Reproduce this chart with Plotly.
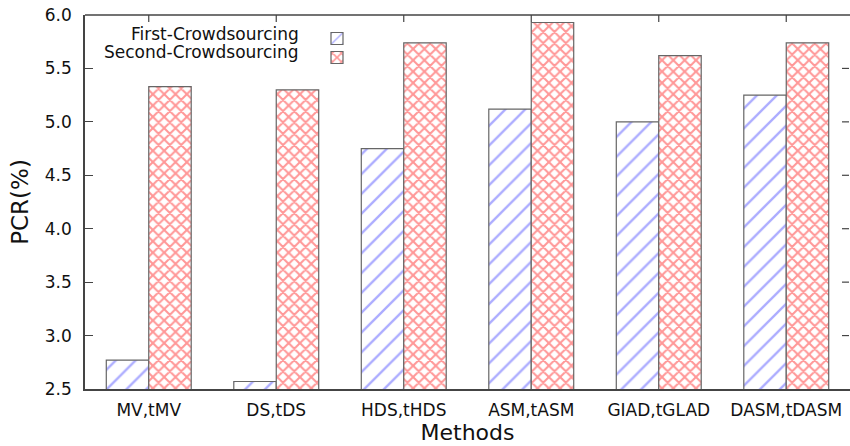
import plotly.graph_objects as go

categories = ["MV,tMV", "DS,tDS", "HDS,tHDS", "ASM,tASM", "GIAD,tGLAD", "DASM,tDASM"]
first_crowd = [2.77, 2.57, 4.75, 5.12, 5.00, 5.25]
second_crowd = [5.33, 5.30, 5.74, 5.93, 5.62, 5.74]
series_names = ["First-Crowdsourcing", "Second-Crowdsourcing"]
y_ticks = [2.5, 3.0, 3.5, 4.0, 4.5, 5.0, 5.5, 6.0]

FONT = "DejaVu Sans, Liberation Sans, Arial, sans-serif"

# plot area wanted at screen x 85..850, y 15..389 (page body margin removed)
W, H = 850, 446
PL, PR, PT, PB = 85, 850, 15, 389
PW, PH = PR - PL, PB - PT

fig = go.Figure()
fig.add_trace(go.Bar(
    x=categories, y=first_crowd, name="",
    hovertemplate=series_names[0] + ": %{y}<extra></extra>",
    marker=dict(color="white", line=dict(color="#666666", width=1.2),
                pattern=dict(shape="/", fgcolor="#5a5aff", bgcolor="white",
                             size=14, solidity=0.17)),
))
fig.add_trace(go.Bar(
    x=categories, y=second_crowd, name="",
    hovertemplate=series_names[1] + ": %{y}<extra></extra>",
    marker=dict(color="white", line=dict(color="#666666", width=1.2),
                pattern=dict(shape="x", fgcolor="#ff3030", bgcolor="white",
                             size=8, solidity=0.45)),
))

# top border and mirrored ticks (frame decorations)
fig.add_shape(type="line", xref="paper", yref="paper", x0=0, x1=1, y0=1, y1=1,
              line=dict(color="#444444", width=1.5))
for c in categories:
    fig.add_shape(type="line", xref="x", yref="paper", x0=c, x1=c, y0=1, y1=1 - 7 / PH,
                  line=dict(color="#444444", width=1.2))
for t in y_ticks[1:-1]:
    fig.add_shape(type="line", xref="paper", yref="y", x0=1 - 8 / PW, x1=1 - 1 / PW,
                  y0=t, y1=t, line=dict(color="#444444", width=1.2))

# legend labels (gnuplot style: text left of sample)
for i, nm in enumerate(series_names):
    fig.add_annotation(text=nm, xref="paper", yref="paper",
                       x=(301 - PL) / PW, y=(PB - (34 + 18 * i)) / PH,
                       xanchor="right", yanchor="middle", showarrow=False,
                       font=dict(family=FONT, size=17, color="#111111"))

fig.update_layout(
    width=W, height=H,
    margin=dict(l=PL, r=W - PR, t=PT, b=H - PB, autoexpand=False),
    paper_bgcolor="white", plot_bgcolor="white",
    barmode="group", bargap=0.334, bargroupgap=0,
    font=dict(family=FONT, size=17, color="#111111"),
    showlegend=True,
    legend=dict(x=(312 - PL) / PW, y=(PB - 24) / PH, xanchor="left", yanchor="top",
                bgcolor="rgba(0,0,0,0)", font=dict(size=10), tracegroupgap=0,
                itemwidth=40),
    xaxis=dict(showline=True, linecolor="#444444", linewidth=1.5,
               ticks="", showgrid=False, automargin=False,
               tickfont=dict(size=17), ticklabelstandoff=5,
               title=dict(text="Methods", font=dict(size=22), standoff=3)),
    yaxis=dict(range=[2.5, 6.0], tickvals=y_ticks,
               ticktext=[f"{v:.1f}" for v in y_ticks],
               ticklabeloverflow="allow", automargin=False,
               showline=True, linecolor="#444444", linewidth=1.5,
               ticks="inside", ticklen=8, tickcolor="#444444", tickwidth=1.2,
               showgrid=False, zeroline=False,
               tickfont=dict(size=17), ticklabelstandoff=8,
               title=dict(text="PCR(%)", font=dict(size=23), standoff=10)),
)

fig.write_html("out.html", config={"displayModeBar": False},
               post_script="document.body.style.margin='0';document.body.style.overflow='hidden';")
